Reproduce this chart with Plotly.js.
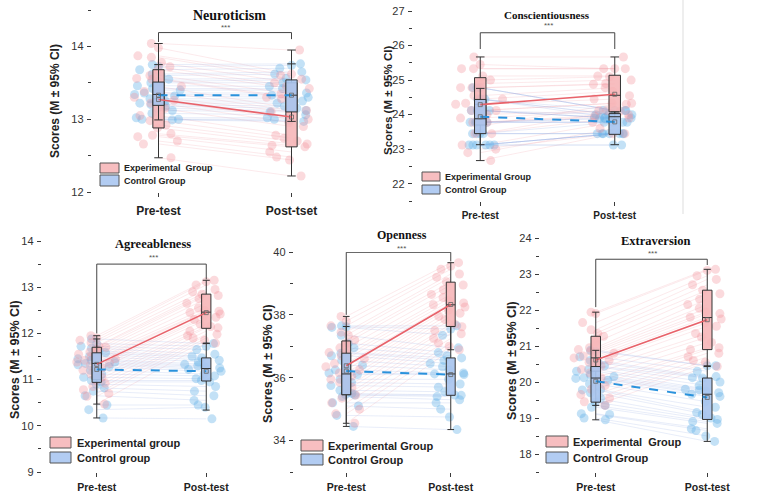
<!DOCTYPE html>
<html>
<head>
<meta charset="utf-8">
<script src="https://cdn.plot.ly/plotly-3.0.1.min.js"></script>
<style>
  html, body { margin: 0; padding: 0; background: #fff; }
  #chart { width: 767px; height: 496px; }
</style>
</head>
<body>
<div id="chart"></div>
<script>
// ---- time points ----
const timePoints = ['Pre-test', 'Post-test'];
const timePointsNeuro = ['Pre-test', 'Post-tset'];

// ---- Neuroticism: individual scores ----
const neuroExpPre  = [14.04, 13.98, 13.87, 13.85, 13.78, 13.72, 13.68, 13.60, 13.56, 13.55, 13.45, 13.38, 13.30, 13.26, 13.22, 13.15, 13.05, 12.98, 12.92, 12.88, 12.80, 12.78, 12.76, 12.70, 12.66, 12.47];
const neuroExpPost = [13.95, 13.62, 13.60, 13.55, 13.50, 13.45, 13.42, 13.35, 13.30, 13.28, 13.15, 13.12, 13.10, 13.00, 12.95, 12.90, 12.78, 12.74, 12.70, 12.66, 12.64, 12.62, 12.55, 12.48, 12.44, 12.22];
const neuroCtlPre  = [13.75, 13.72, 13.68, 13.62, 13.60, 13.55, 13.52, 13.50, 13.46, 13.42, 13.40, 13.36, 13.34, 13.32, 13.28, 13.25, 13.22, 13.20, 13.18, 13.15, 13.12, 13.08, 13.02, 13.00, 13.00, 12.99];
const neuroCtlPost = [13.76, 13.74, 13.70, 13.65, 13.62, 13.56, 13.54, 13.50, 13.45, 13.42, 13.40, 13.36, 13.33, 13.30, 13.28, 13.25, 13.22, 13.18, 13.15, 13.12, 13.10, 13.06, 13.02, 13.00, 12.98, 12.97];
// box summaries [pre, post]
const neuroExpQ1 = [12.88, 12.62], neuroExpMed = [13.28, 13.11], neuroExpQ3 = [13.68, 13.50];
const neuroExpLo = [12.47, 12.22], neuroExpHi = [14.04, 13.95], neuroExpMean = [13.27, 13.03];
const neuroCtlQ1 = [13.19, 13.10], neuroCtlMed = [13.34, 13.33], neuroCtlQ3 = [13.51, 13.54];
const neuroCtlLo = [12.99, 12.97], neuroCtlHi = [13.75, 13.76], neuroCtlMean = [13.33, 13.33];

// ---- Conscientiousness ----
const consExpPre  = [25.67, 25.45, 25.33, 25.33, 25.12, 25.00, 24.90, 24.78, 24.78, 24.55, 24.45, 24.33, 24.30, 24.12, 24.12, 24.00, 23.90, 23.78, 23.78, 23.67, 23.45, 23.45, 23.12, 23.00, 22.90, 22.67];
const consExpPost = [25.67, 25.33, 25.33, 25.33, 25.12, 25.10, 25.00, 24.88, 24.90, 24.78, 24.67, 24.55, 24.45, 24.33, 24.33, 24.12, 24.12, 24.00, 23.95, 24.30, 23.90, 24.10, 23.78, 23.45, 23.60, 23.45];
const consCtlPre  = [24.78, 24.78, 24.78, 24.45, 24.45, 24.45, 24.45, 24.12, 24.12, 24.12, 23.78, 23.78, 23.78, 23.78, 23.45, 23.45, 23.45, 23.45, 23.12, 23.12, 23.12, 23.12, 23.12, 23.12, 24.12, 23.78];
const consCtlPost = [24.12, 24.12, 24.12, 24.12, 24.00, 24.00, 23.90, 23.90, 23.90, 23.90, 23.90, 23.78, 23.78, 23.78, 23.78, 23.45, 23.45, 23.45, 23.45, 23.45, 23.45, 23.45, 23.12, 23.12, 24.00, 23.90];
const consExpQ1 = [23.70, 24.08], consExpMed = [24.30, 24.56], consExpQ3 = [25.07, 25.14];
const consExpLo = [22.67, 23.90], consExpHi = [25.67, 25.67], consExpMean = [24.29, 24.59];
const consCtlQ1 = [23.45, 23.43], consCtlMed = [23.88, 23.94], consCtlQ3 = [24.44, 24.03];
const consCtlLo = [23.13, 23.13], consCtlHi = [24.76, 24.08], consCtlMean = [23.94, 23.79];

// ---- Agreeableness ----
const agreeExpPre  = [11.95, 11.90, 11.85, 11.80, 11.72, 11.70, 11.65, 11.60, 11.55, 11.50, 11.45, 11.42, 11.38, 11.35, 11.30, 11.25, 11.20, 11.12, 11.05, 10.98, 10.92, 10.85, 10.78, 10.70, 10.64, 10.47];
const agreeExpPost = [13.15, 13.12, 13.05, 12.95, 12.90, 12.85, 12.82, 12.75, 12.65, 12.55, 12.50, 12.48, 12.45, 12.42, 12.38, 12.35, 12.30, 12.20, 12.15, 12.12, 12.05, 11.98, 11.95, 11.90, 11.85, 11.79];
const agreeCtlPre  = [11.88, 11.78, 11.72, 11.68, 11.62, 11.58, 11.55, 11.50, 11.45, 11.42, 11.38, 11.35, 11.32, 11.28, 11.20, 11.12, 11.05, 10.98, 10.95, 10.90, 10.82, 10.75, 10.65, 10.45, 10.35, 10.17];
const agreeCtlPost = [11.78, 11.72, 11.65, 11.55, 11.50, 11.47, 11.42, 11.38, 11.33, 11.30, 11.28, 11.25, 11.22, 11.18, 11.12, 11.08, 11.02, 10.98, 10.95, 10.85, 10.75, 10.65, 10.55, 10.45, 10.40, 10.15];
const agreeExpQ1 = [11.00, 12.11], agreeExpMed = [11.35, 12.46], agreeExpQ3 = [11.70, 12.85];
const agreeExpLo = [10.47, 11.79], agreeExpHi = [11.95, 13.15], agreeExpMean = [11.33, 12.45];
const agreeCtlQ1 = [10.94, 10.97], agreeCtlMed = [11.35, 11.24], agreeCtlQ3 = [11.58, 11.47];
const agreeCtlLo = [10.17, 10.34], agreeCtlHi = [11.88, 11.78], agreeCtlMean = [11.22, 11.18];

// ---- Openness ----
const openExpPre  = [37.95, 37.80, 37.65, 37.45, 37.35, 37.20, 37.10, 36.95, 36.80, 36.70, 36.60, 36.45, 36.35, 36.25, 36.15, 36.05, 35.95, 35.85, 35.70, 35.60, 35.45, 35.35, 35.20, 35.00, 34.85, 34.55];
const openExpPost = [39.66, 39.55, 39.45, 39.30, 39.20, 39.05, 38.95, 38.80, 38.65, 38.55, 38.45, 38.38, 38.32, 38.25, 38.15, 38.05, 37.95, 37.85, 37.70, 37.62, 37.50, 37.40, 37.25, 37.10, 37.00, 36.89];
const openCtlPre  = [37.65, 37.62, 37.60, 37.35, 37.10, 36.95, 36.80, 36.78, 36.70, 36.55, 36.40, 36.25, 36.15, 36.10, 35.95, 35.85, 35.75, 35.60, 35.50, 35.46, 35.45, 35.40, 35.20, 35.10, 34.80, 34.45];
const openCtlPost = [37.65, 37.55, 37.35, 36.95, 36.80, 36.70, 36.63, 36.55, 36.45, 36.35, 36.25, 36.15, 36.12, 36.10, 35.95, 35.80, 35.70, 35.55, 35.45, 35.44, 35.40, 35.30, 35.20, 35.00, 34.75, 34.35];
const openExpQ1 = [35.46, 37.63], openExpMed = [36.30, 38.32], openExpQ3 = [37.17, 39.04];
const openExpLo = [34.55, 36.89], openExpHi = [37.95, 39.66], openExpMean = [36.38, 38.33];
const openCtlQ1 = [35.46, 35.44], openCtlMed = [36.12, 36.12], openCtlQ3 = [36.78, 36.63];
const openCtlLo = [34.45, 34.35], openCtlHi = [37.63, 37.63], openCtlMean = [36.21, 36.10];

// ---- Extraversion ----
const extraExpPre  = [21.94, 21.90, 21.65, 21.45, 21.35, 21.27, 21.10, 20.95, 20.90, 20.85, 20.80, 20.72, 20.67, 20.60, 20.55, 20.45, 20.35, 20.25, 20.12, 20.00, 19.90, 19.80, 19.65, 19.55, 19.45, 19.35];
const extraExpPost = [23.13, 23.10, 22.95, 22.85, 22.70, 22.55, 22.45, 22.30, 22.15, 22.05, 21.95, 21.90, 21.80, 21.75, 21.65, 21.55, 21.35, 21.25, 21.10, 20.95, 20.90, 20.80, 20.70, 20.60, 20.55, 20.43];
const extraCtlPre  = [20.88, 20.85, 20.70, 20.60, 20.55, 20.45, 20.43, 20.35, 20.30, 20.20, 20.15, 20.12, 20.10, 20.05, 19.95, 19.80, 19.78, 19.70, 19.55, 19.44, 19.35, 19.30, 19.12, 19.10, 19.00, 18.95];
const extraCtlPost = [20.45, 20.45, 20.30, 20.15, 20.12, 20.11, 20.00, 19.90, 19.80, 19.78, 19.75, 19.70, 19.66, 19.60, 19.45, 19.30, 19.15, 19.10, 19.00, 18.96, 18.90, 18.85, 18.70, 18.65, 18.50, 18.35];
const extraExpQ1 = [20.30, 20.90], extraExpMed = [20.67, 21.79], extraExpQ3 = [21.27, 22.55];
const extraExpLo = [19.35, 20.43], extraExpHi = [21.94, 23.13], extraExpMean = [20.61, 21.73];
const extraCtlQ1 = [19.44, 18.96], extraCtlMed = [20.11, 19.66], extraCtlQ3 = [20.43, 20.11];
const extraCtlLo = [18.95, 18.35], extraCtlHi = [20.88, 20.45], extraCtlMean = [20.02, 19.57];

// ---- styling ----
const PINK_PT = 'rgba(242,142,152,0.33)';
const BLUE_PT = 'rgba(96,176,232,0.38)';
const PINK_LN = 'rgba(240,150,160,0.22)';
const BLUE_LN = 'rgba(140,165,222,0.22)';
const PINK_BOX = 'rgba(246,180,182,0.88)';
const BLUE_BOX = 'rgba(168,196,238,0.92)';
const PINK_MEAN = '#e8626a';
const BLUE_MEAN = '#2a92dc';
const AXIS_C = '#3a3a3a';
const SANS = 'Liberation Sans, Arial, sans-serif';
const SERIF = 'Liberation Serif, Times New Roman, serif';

const W = 767, H = 496;
const px = v => v / W;
const py = v => 1 - v / H;

const traces = [];
const shapes = [];
const annotations = [];
const layout = {
  width: W, height: H,
  margin: { l: 0, r: 0, t: 0, b: 0 },
  paper_bgcolor: '#fff', plot_bgcolor: 'rgba(0,0,0,0)',
  showlegend: false,
  boxmode: 'overlay',
  font: { family: SANS, color: '#222' },
  shapes, annotations
};

function pairs(cats, pre, post) {
  const x = [], y = [];
  pre.forEach((v, i) => { x.push(cats[0], cats[1], null); y.push(v, post[i], null); });
  return { x, y };
}

function addPanel(p) {
  const xa = p.k === 1 ? 'x' : 'x' + p.k;
  const ya = p.k === 1 ? 'y' : 'y' + p.k;
  const cats = p.cats;

  // participant trajectories
  [[p.expPre, p.expPost, PINK_LN], [p.ctlPre, p.ctlPost, BLUE_LN]].forEach(([a, b, c]) => {
    const l = pairs(cats, a, b);
    traces.push({ type: 'scatter', mode: 'lines', x: l.x, y: l.y, xaxis: xa, yaxis: ya,
      line: { color: c, width: 0.9 }, hoverinfo: 'skip', zorder: 0 });
  });

  // jittered raw scores
  [[p.ctlPre, p.ctlPost, BLUE_PT], [p.expPre, p.expPost, PINK_PT]].forEach(([a, b, c]) => {
    traces.push({ type: 'box', xaxis: xa, yaxis: ya,
      x: a.map(() => cats[0]).concat(b.map(() => cats[1])),
      y: a.concat(b),
      boxpoints: 'all', jitter: 1, pointpos: 0, width: 0.4,
      fillcolor: 'rgba(0,0,0,0)', line: { color: 'rgba(0,0,0,0)', width: 0 },
      marker: { color: c, size: p.ms, line: { width: 0 } },
      hoverinfo: 'skip', zorder: 1 });
  });

  // box summaries
  [[p.exp, PINK_BOX, 2], [p.ctl, BLUE_BOX, 3]].forEach(([s, c, z]) => {
    traces.push({ type: 'box', xaxis: xa, yaxis: ya, x: cats,
      q1: s.q1, median: s.med, q3: s.q3, lowerfence: s.lo, upperfence: s.hi,
      width: 0.085, whiskerwidth: 0.75, boxpoints: false,
      fillcolor: c, line: { color: '#333', width: 1 }, hoverinfo: 'skip', zorder: z });
  });

  // group means
  traces.push({ type: 'scatter', mode: 'lines+markers', x: cats, y: p.exp.mean, xaxis: xa, yaxis: ya,
    line: { color: PINK_MEAN, width: 1.6 },
    marker: { symbol: 'square-open', size: 4, color: '#666', line: { width: 0.8 } },
    hoverinfo: 'skip', zorder: 4 });
  traces.push({ type: 'scatter', mode: 'lines+markers', x: cats, y: p.ctl.mean, xaxis: xa, yaxis: ya,
    line: { color: BLUE_MEAN, width: 2, dash: 'dash' },
    marker: { symbol: 'square-open', size: 4, color: '#666', line: { width: 0.8 } },
    hoverinfo: 'skip', zorder: 4 });

  // significance bracket
  traces.push({ type: 'scatter', mode: 'lines', xaxis: xa, yaxis: ya,
    x: [cats[0], cats[0], cats[1], cats[1]],
    y: [p.br[0], p.br[1], p.br[1], p.br[2]],
    line: { color: '#444', width: 1 }, hoverinfo: 'skip', zorder: 5 });

  // axes
  layout['xaxis' + (p.k === 1 ? '' : p.k)] = {
    domain: [px(p.box[0]), px(p.box[1])], anchor: ya,
    type: 'category', categoryorder: 'array', categoryarray: cats, range: [-0.5, 1.5],
    showline: true, linecolor: AXIS_C, linewidth: 1.2, showgrid: false, zeroline: false,
    ticks: 'outside', ticklen: 4, tickcolor: AXIS_C, tickwidth: 1,
    tickfont: { family: SANS, size: p.xfs, color: '#222', weight: 'bold' },
    ticklabelstandoff: p.xstand, fixedrange: true
  };
  layout['yaxis' + (p.k === 1 ? '' : p.k)] = {
    domain: [py(p.box[3]), py(p.box[2])], anchor: xa,
    range: p.yr, dtick: p.dt, tick0: 0,
    showline: true, linecolor: AXIS_C, linewidth: 1.2, showgrid: false, zeroline: false,
    ticks: 'outside', ticklen: 4, tickcolor: AXIS_C, tickwidth: 1,
    minor: { dtick: p.dt / 2, ticks: 'outside', ticklen: 2.5, tickcolor: AXIS_C, showgrid: false },
    tickfont: { family: SANS, size: 11, color: '#333' }, ticklabelstandoff: 1, fixedrange: true
  };

  // title, stars, y label
  annotations.push({ xref: 'paper', yref: 'paper', x: px(p.title[1]), y: py(p.title[2]),
    text: '<b>' + p.title[0] + '</b>', showarrow: false, xanchor: 'center', yanchor: 'middle',
    font: { family: SERIF, size: p.title[3], color: '#111' } });
  annotations.push({ xref: 'paper', yref: 'paper', x: px(p.stars[0]), y: py(p.stars[1]),
    text: '***', showarrow: false, xanchor: 'center', yanchor: 'middle',
    font: { family: SANS, size: 8, color: '#555' } });
  annotations.push({ xref: 'paper', yref: 'paper', x: px(p.ylab[0]), y: py(p.ylab[1]),
    text: '<b>Scores (M ± 95% CI)</b>', textangle: -90, showarrow: false,
    xanchor: 'center', yanchor: 'middle',
    font: { family: SANS, size: p.ylab[2], color: '#222' } });

  // legend
  const lg = p.legend;
  [[lg.rows[0], 'rgba(247,190,192,1)', lg.labels[0]], [lg.rows[1], 'rgba(178,204,242,1)', lg.labels[1]]]
    .forEach(([r, c, t]) => {
      shapes.push({ type: 'rect', xref: 'paper', yref: 'paper',
        x0: px(lg.x0), x1: px(lg.x1), y0: py(r[1]), y1: py(r[0]),
        fillcolor: c, line: { color: '#555', width: 1 } });
      annotations.push({ xref: 'paper', yref: 'paper', x: px(lg.tx), y: py((r[0] + r[1]) / 2),
        text: '<b>' + t + '</b>', showarrow: false, xanchor: 'left', yanchor: 'middle',
        font: { family: SANS, size: lg.fs, color: '#222' } });
    });
}

addPanel({ k: 1, cats: timePointsNeuro, box: [92, 358, 10, 192], yr: [12, 14.5], dt: 1, ms: 9,
  xfs: 12, xstand: 3,
  expPre: neuroExpPre, expPost: neuroExpPost, ctlPre: neuroCtlPre, ctlPost: neuroCtlPost,
  exp: { q1: neuroExpQ1, med: neuroExpMed, q3: neuroExpQ3, lo: neuroExpLo, hi: neuroExpHi, mean: neuroExpMean },
  ctl: { q1: neuroCtlQ1, med: neuroCtlMed, q3: neuroCtlQ3, lo: neuroCtlLo, hi: neuroCtlHi, mean: neuroCtlMean },
  br: [14.06, 14.19, 14.10],
  title: ['Neuroticism', 229, 16, 14], stars: [226, 28], ylab: [55, 101, 12],
  legend: { x0: 100, x1: 119, tx: 122, rows: [[163, 173], [175, 186]], fs: 9,
    labels: ['Experimental&nbsp; Group', 'Control Group'] } });

addPanel({ k: 2, cats: timePoints, box: [413, 682, 11, 201], yr: [21.5, 27], dt: 1, ms: 9,
  xfs: 10, xstand: 1,
  expPre: consExpPre, expPost: consExpPost, ctlPre: consCtlPre, ctlPost: consCtlPost,
  exp: { q1: consExpQ1, med: consExpMed, q3: consExpQ3, lo: consExpLo, hi: consExpHi, mean: consExpMean },
  ctl: { q1: consCtlQ1, med: consCtlMed, q3: consCtlQ3, lo: consCtlLo, hi: consCtlHi, mean: consCtlMean },
  br: [25.9, 26.37, 25.9],
  title: ['Conscientiousness', 547, 15, 11], stars: [548, 26], ylab: [388, 101, 11.5],
  legend: { x0: 422, x1: 440, tx: 443, rows: [[172, 181], [185, 194]], fs: 9,
    labels: ['Experimental Group', 'Control Group'] } });

addPanel({ k: 3, cats: timePoints, box: [42, 261, 241, 472], yr: [9, 14], dt: 1, ms: 9,
  xfs: 10.5, xstand: 1,
  expPre: agreeExpPre, expPost: agreeExpPost, ctlPre: agreeCtlPre, ctlPost: agreeCtlPost,
  exp: { q1: agreeExpQ1, med: agreeExpMed, q3: agreeExpQ3, lo: agreeExpLo, hi: agreeExpHi, mean: agreeExpMean },
  ctl: { q1: agreeCtlQ1, med: agreeCtlMed, q3: agreeCtlQ3, lo: agreeCtlLo, hi: agreeCtlHi, mean: agreeCtlMean },
  br: [12.0, 13.5, 13.17],
  title: ['Agreeableness', 153, 244, 12.5], stars: [153, 257], ylab: [15, 360, 12.5],
  legend: { x0: 50, x1: 71, tx: 75, rows: [[437, 448], [452, 463]], fs: 11,
    labels: ['Experimental group', 'Control group'] } });

addPanel({ k: 4, cats: timePoints, box: [294, 503, 252, 472], yr: [33, 40], dt: 2, ms: 9,
  xfs: 10.5, xstand: 1,
  expPre: openExpPre, expPost: openExpPost, ctlPre: openCtlPre, ctlPost: openCtlPost,
  exp: { q1: openExpQ1, med: openExpMed, q3: openExpQ3, lo: openExpLo, hi: openExpHi, mean: openExpMean },
  ctl: { q1: openCtlQ1, med: openCtlMed, q3: openCtlQ3, lo: openCtlLo, hi: openCtlHi, mean: openCtlMean },
  br: [38.0, 39.99, 39.7],
  title: ['Openness', 402, 235, 12], stars: [401, 248], ylab: [268, 364, 12.5],
  legend: { x0: 301, x1: 323, tx: 326, rows: [[440, 451], [454, 465]], fs: 11,
    labels: ['Experimental Group', 'Control Group'] } });

addPanel({ k: 5, cats: timePoints, box: [540, 763, 238, 472], yr: [17.5, 24], dt: 1, ms: 9,
  xfs: 10.5, xstand: 1,
  expPre: extraExpPre, expPost: extraExpPost, ctlPre: extraCtlPre, ctlPost: extraCtlPost,
  exp: { q1: extraExpQ1, med: extraExpMed, q3: extraExpQ3, lo: extraExpLo, hi: extraExpHi, mean: extraExpMean },
  ctl: { q1: extraCtlQ1, med: extraCtlMed, q3: extraCtlQ3, lo: extraCtlLo, hi: extraCtlHi, mean: extraCtlMean },
  br: [22.08, 23.41, 23.25],
  title: ['Extraversion', 655, 241, 12.5], stars: [652, 253], ylab: [512, 361, 12.5],
  legend: { x0: 546, x1: 568, tx: 571, rows: [[436, 447], [452, 463]], fs: 11,
    labels: ['Experimental&nbsp; Group', 'Control Group'] } });

// faint frame edge to the right of the conscientiousness panel
shapes.push({ type: 'line', xref: 'paper', yref: 'paper', x0: px(683), x1: px(683), y0: py(214), y1: py(0),
  line: { color: '#dddddd', width: 1 } });

Plotly.newPlot('chart', traces, layout, { staticPlot: true, displayModeBar: false });
</script>
</body>
</html>
